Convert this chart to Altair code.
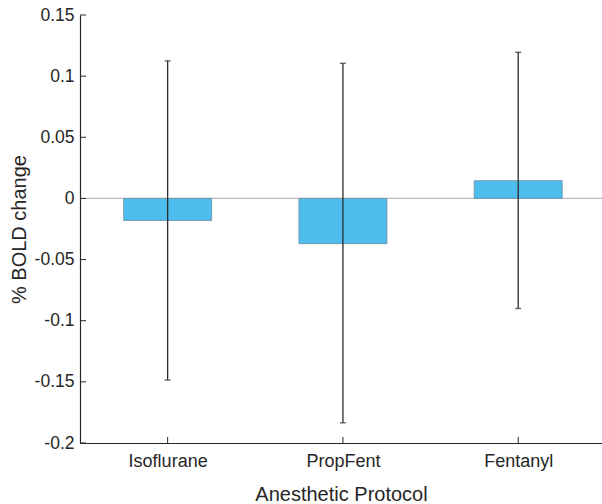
import altair as alt
import pandas as pd

# Mean % BOLD change per anesthetic protocol with error bar limits
protocols = ["Isoflurane", "PropFent", "Fentanyl"]
mean_change = [-0.018, -0.037, 0.0145]
err_low = [-0.1485, -0.1835, -0.0900]
err_high = [0.1125, 0.1105, 0.1195]
y_tick_values = [-0.2, -0.15, -0.1, -0.05, 0, 0.05, 0.1, 0.15]

df = pd.DataFrame({
    "protocol": protocols,
    "pos": list(range(1, len(protocols) + 1)),
    "mean": mean_change,
    "lo": err_low,
    "hi": err_high,
})
ticks_df = pd.DataFrame({"tick": y_tick_values})

INK = "#262626"
FONT = "Liberation Sans"
W, H = 522, 428

x_scale = alt.Scale(domain=[0.5, 3.478], nice=False, zero=False, padding=0)
y_scale = alt.Scale(domain=[-0.2, 0.15], nice=False, zero=False, padding=0)

label_expr = "[" + ",".join(f"'{p}'" for p in protocols) + "][datum.value - 1]"
x_axis = alt.Axis(
    values=list(df["pos"]), labelExpr=label_expr, title="Anesthetic Protocol",
    grid=False, ticks=False, tickSize=0, labelPadding=9, titlePadding=14,
    labelFontSize=18,
)
y_axis = alt.Axis(
    values=y_tick_values, labelExpr="'' + datum.value", title="% BOLD change",
    grid=False, ticks=False, tickSize=0, labelPadding=6, titlePadding=5,
    labelFontSize=17.5,
)


def xq(field):
    return alt.X(field, type="quantitative", scale=x_scale, axis=x_axis)


def yq(field):
    return alt.Y(field, type="quantitative", scale=y_scale, axis=y_axis)


zero_line = alt.Chart(df).mark_rule(color="#bdbdbd", strokeWidth=1).encode(
    y=alt.YDatum(0, scale=y_scale, axis=y_axis)
)

bars = alt.Chart(df).mark_bar(
    size=88, orient="vertical", color="#4DBEEE", stroke="#6b8c9c",
    strokeWidth=1, strokeOpacity=0.8,
).encode(x=xq("pos"), y=yq("mean"), y2=alt.Y2Datum(0))

err_lines = alt.Chart(df).mark_rule(color="#2b2b2b", strokeWidth=1.3).encode(
    x=xq("pos"), y=yq("lo"), y2="hi"
)
cap_lo = alt.Chart(df).mark_tick(
    orient="horizontal", size=6, thickness=1.4, color="#2b2b2b"
).encode(x=xq("pos"), y=yq("lo"))
cap_hi = alt.Chart(df).mark_tick(
    orient="horizontal", size=6, thickness=1.4, color="#2b2b2b"
).encode(x=xq("pos"), y=yq("hi"))

# Inward-pointing tick marks on both axes
y_ticks = alt.Chart(ticks_df).mark_rule(color=INK, strokeWidth=1).encode(
    y=yq("tick"), x=alt.value(0), x2=alt.value(6)
)
x_ticks = alt.Chart(df).mark_rule(color=INK, strokeWidth=1).encode(
    x=xq("pos"), y=alt.value(H), y2=alt.value(H - 6)
)

chart = alt.layer(
    zero_line, bars, err_lines, cap_lo, cap_hi, y_ticks, x_ticks
).properties(
    width=W, height=H,
    autosize="none",
    padding={"left": 80, "top": 15, "right": 0, "bottom": 61},
).configure_view(
    stroke=None
).configure_axis(
    domainColor=INK, domainWidth=1.2,
    labelColor=INK, titleColor=INK,
    labelFont=FONT, titleFont=FONT,
    titleFontSize=20, titleFontWeight="normal",
)

chart.save("out.html", embed_options={"renderer": "svg", "actions": False})
